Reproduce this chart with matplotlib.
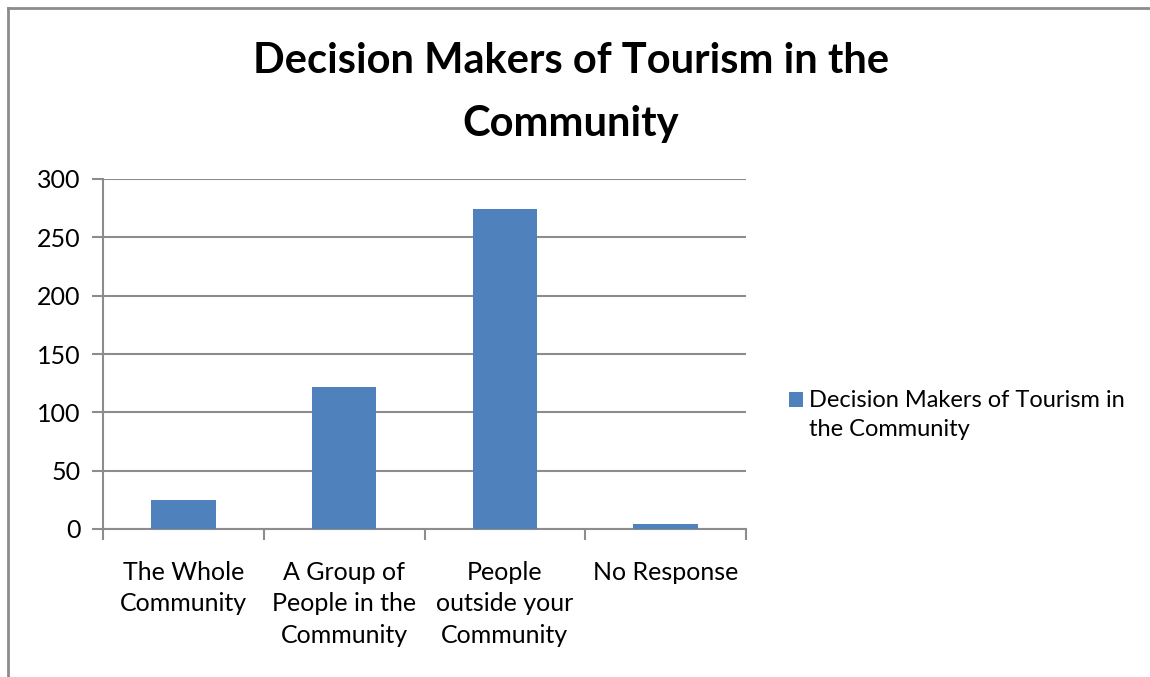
import numpy as np
import matplotlib
matplotlib.use("Agg")
import matplotlib.pyplot as plt
from matplotlib.patches import Rectangle
from matplotlib.lines import Line2D
from matplotlib.legend_handler import HandlerPatch

plt.rcParams['font.family'] = ['Lato', 'DejaVu Sans']

# survey responses
categories = ['The Whole\nCommunity', 'A Group of\nPeople in the\nCommunity',
              'People\noutside your\nCommunity', 'No Response']
counts = [25, 122, 274, 4]
series_name = 'Decision Makers of Tourism in\nthe Community'
title = 'Decision Makers of Tourism in the\nCommunity'
yticks = [0, 50, 100, 150, 200, 250, 300]

bar_blue = '#4F81BD'
grid_gray = '#8C8C8C'

fig = plt.figure(figsize=(11.5, 6.77), dpi=100)
ax = fig.add_axes([103/1150, 1 - 529/677, 643/1150, 350/677])

x = np.arange(len(categories))
bars = ax.bar(x, counts, width=0.4, color=bar_blue, label=series_name, zorder=3)

ax.set_xlim(-0.5, len(categories) - 0.5)
ax.set_ylim(0, 300)
ax.set_yticks(yticks)
ax.yaxis.grid(True, color=grid_gray, linewidth=1.5)
ax.set_axisbelow(True)

# category labels centred, ticks on the boundaries
ax.set_xticks(np.arange(len(categories) + 1) - 0.5)
ax.set_xticklabels([])
ax.set_xticks(x, minor=True)
ax.set_xticklabels(categories, minor=True, fontsize=18, linespacing=1.45, va='top')
ax.tick_params(axis='x', which='minor', length=0, pad=23)
ax.tick_params(axis='x', which='major', length=8, width=1.5, color=grid_gray, direction='out')
ax.tick_params(axis='y', length=8, width=1.5, color=grid_gray, direction='out', labelsize=18, pad=8)

for s in ['top', 'right']:
    ax.spines[s].set_visible(False)
for s in ['left', 'bottom']:
    ax.spines[s].set_color(grid_gray)
    ax.spines[s].set_linewidth(1.5)


# legend square sits next to the first line of the wrapped label
def square_patch(legend, orig_handle, xdescent, ydescent, width, height, fontsize):
    side = 0.6 * fontsize
    return Rectangle((-xdescent, -ydescent + 0.05 * fontsize + 11.5), side, side)


leg = fig.legend(handles=[bars.patches[0]], labels=[series_name], loc='upper left',
                 bbox_to_anchor=(789/1150, 1 - 390/677), frameon=False, fontsize=17,
                 handlelength=0.6, handletextpad=0.25, borderpad=0, labelspacing=0,
                 borderaxespad=0,
                 handler_map={Rectangle: HandlerPatch(patch_func=square_patch)})
leg.get_texts()[0].set_linespacing(1.5)

fig.text(571/1150, 1 - 42/677, title, ha='center', va='top', fontsize=30,
         fontweight='bold', linespacing=1.8)

# chart area outline
fig.add_artist(Line2D([8/1150, 8/1150], [-0.01, 1 - 8/677], transform=fig.transFigure,
                      color=grid_gray, linewidth=2))
fig.add_artist(Line2D([8/1150, 1.01], [1 - 8/677, 1 - 8/677], transform=fig.transFigure,
                      color=grid_gray, linewidth=2))

fig.savefig('out.png', dpi=100)
